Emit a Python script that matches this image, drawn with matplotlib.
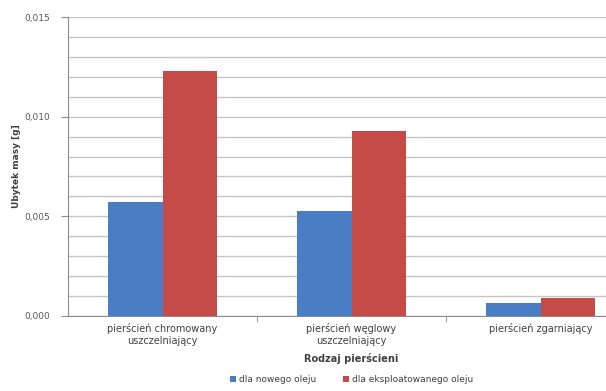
import numpy as np
import matplotlib.pyplot as plt
from matplotlib.ticker import MultipleLocator, FuncFormatter, FixedLocator

# ubytek masy pierścieni [g]
rodzaje = ['pierścień chromowany\nuszczelniający', 'pierścień węglowy\nuszczelniający',
           'pierścień zgarniający']
nowy_olej = [0.00572, 0.00527, 0.00065]
eksploatowany_olej = [0.0123, 0.00928, 0.0009]
serie = ['dla nowego oleju', 'dla eksploatowanego oleju']

plt.rcParams['font.family'] = ['DejaVu Sans']
txt = '#404040'
grid_c = '#c4c4c4'

fig = plt.figure(figsize=(6.06, 3.91), dpi=100)
ax = fig.add_axes([68 / 606, 75 / 391, 567 / 606, 299 / 391])

x = np.arange(len(rodzaje))
w = 0.286
ax.bar(x - w / 2, nowy_olej, w, color='#4a7ec4', label=serie[0], zorder=3)
ax.bar(x + w / 2, eksploatowany_olej, w, color='#c44b48', label=serie[1], zorder=3)

ax.set_xlim(-0.5, len(rodzaje) - 0.5)
ax.set_ylim(0, 0.015)
ax.yaxis.set_major_locator(MultipleLocator(0.005))
ax.yaxis.set_minor_locator(MultipleLocator(0.001))
ax.yaxis.set_major_formatter(FuncFormatter(lambda v, p: f'{v:.3f}'.replace('.', ',')))
ax.grid(axis='y', which='both', color=grid_c, lw=1, zorder=0)
ax.tick_params(axis='y', which='minor', length=0)
ax.tick_params(axis='y', which='major', length=5, color='#8c8c8c', labelsize=6.5,
               labelcolor='#595959', pad=8)

# kategorie pod osią, kreski na granicach kategorii
ax.xaxis.set_major_locator(FixedLocator(x))
ax.set_xticklabels(rodzaje, fontsize=7, color=txt, linespacing=1.3)
ax.tick_params(axis='x', which='major', length=0, pad=5)
ax.xaxis.set_minor_locator(FixedLocator([0.5, 1.5]))
ax.tick_params(axis='x', which='minor', length=4, color='#8c8c8c')

for s in ['top', 'right']:
    ax.spines[s].set_visible(False)
for s in ['left', 'bottom']:
    ax.spines[s].set_color('#8c8c8c')

ax.set_ylabel('Ubytek masy [g]', fontsize=6.5, fontweight='bold', color=txt, labelpad=2)
ax.set_xlabel('Rodzaj pierścieni', fontsize=7, fontweight='bold', color=txt, labelpad=5)

ax.legend(loc='center', bbox_to_anchor=(0.5, -0.214), ncol=2, frameon=False,
          fontsize=6.5, labelcolor=txt, handlelength=0.7, handleheight=0.7,
          handletextpad=0.3, columnspacing=3.0, borderpad=0)

fig.savefig('out.png', dpi=100)
